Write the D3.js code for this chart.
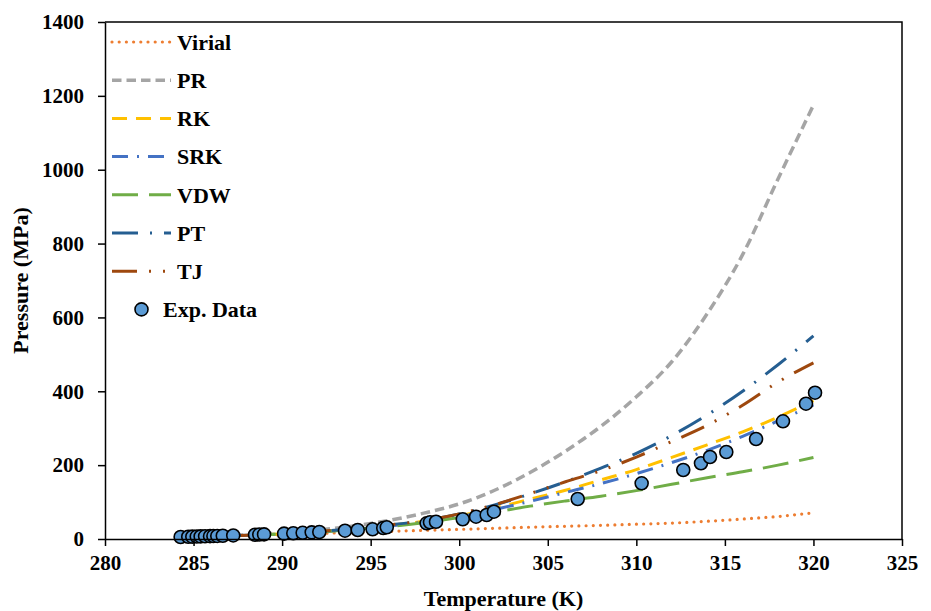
<!DOCTYPE html>
<html>
<head>
<meta charset="utf-8">
<script src="https://cdn.jsdelivr.net/npm/d3@7"></script>
<style>
  body { margin: 0; background: #fff; }
  text { font-family: "Liberation Serif", "Times New Roman", serif; font-weight: bold; fill: #000; }
</style>
</head>
<body>
<div id="chart"></div>
<script>
// model curves, all on one temperature grid (K) -> pressure (MPa)
var modelT = [284, 288, 292, 295, 298, 300, 302, 304, 306, 308, 310, 312, 314, 316, 318, 320];
var virialP = [5, 10, 15, 19, 23.5, 26, 29, 32, 34.5, 37, 40, 43, 48, 54, 61, 71];
var prP = [5, 11, 24, 42, 70, 95, 132, 180, 238, 305, 385, 480, 610, 770, 975, 1175];
var rkP = [5, 10, 19, 31, 48, 63, 84, 108, 132, 160, 188, 221, 255, 290, 330, 375];
var srkP = [5, 10, 19, 30, 46, 60, 80, 102, 126, 150, 177, 207, 240, 278, 320, 363];
var vdwP = [5, 10, 19, 29, 44, 58, 73, 89, 103, 116, 131, 148, 166, 182, 200, 221];
var ptP = [5, 10, 20, 33, 50, 68, 92, 122, 155, 192, 232, 280, 336, 400, 472, 550];
var tjP = [5, 10, 20, 33, 50, 68, 93, 123, 155, 185, 222, 264, 308, 362, 425, 477];

// experimental points
var expT = [284.27, 284.70, 284.93, 285.18, 285.40, 285.65, 285.93, 286.12, 286.34, 286.65, 287.24,
            288.47, 288.71, 288.98, 290.11, 290.63, 291.16, 291.67, 292.10,
            293.55, 294.27, 295.11, 295.71, 295.91, 298.16, 298.35, 298.69, 300.20, 300.95, 301.55, 301.96,
            306.69, 310.30, 312.65, 313.65, 314.16, 315.08, 316.76, 318.28, 319.58, 320.09];
var expP = [5.5, 6, 6.3, 6.6, 7, 7.3, 7.7, 8, 8.3, 8.8, 9.6,
            11.5, 12, 12.5, 14.5, 15.5, 16.8, 18, 19,
            22.5, 24.4, 26.3, 29.8, 31.7, 42.5, 45.2, 46.8, 53.3, 60.4, 65, 73.9,
            108.3, 150.8, 186.8, 205, 222, 235.6, 270.8, 318.7, 366.4, 396.2];

var xTicks = [280, 285, 290, 295, 300, 305, 310, 315, 320, 325];
var yTicks = [0, 200, 400, 600, 800, 1000, 1200, 1400];

var seriesNames = ["Virial", "PR", "RK", "SRK", "VDW", "PT", "TJ"];
var seriesValues = [virialP, prP, rkP, srkP, vdwP, ptP, tjP];
var seriesColors = ["#ED7D31", "#A5A5A5", "#FFC000", "#4472C4", "#70AD47", "#255E91", "#9E480E"];
var seriesDash = ["0,7.2", "9.5,5", "15,9", "16,9,2,9", "26,11", "26,12,2,12", "25,12,2,12,2,12"];
var seriesWidth = [3.2, 3.5, 3, 3, 3, 3, 3];

var svgWidth = 931;
var svgHeight = 611;
var margin = { top: 22, right: 29, bottom: 72, left: 105 };
var width = svgWidth - margin.left - margin.right;
var height = svgHeight - margin.top - margin.bottom;

var svg = d3.select("#chart")
    .append("svg")
    .attr("width", svgWidth)
    .attr("height", svgHeight);

var chart = svg.append("g")
    .attr("transform", "translate(" + margin.left + "," + margin.top + ")");

var xScale = d3.scaleLinear().domain([280, 325]).range([0, width]);
var yScale = d3.scaleLinear().domain([0, 1400]).range([height, 0]);

// frame (top + right)
chart.append("path")
    .attr("d", "M0,0H" + width + "V" + height)
    .attr("fill", "none")
    .attr("stroke", "#000")
    .attr("stroke-width", 1.5);

var line = d3.line()
    .x(function(d) { return xScale(d[0]); })
    .y(function(d) { return yScale(d[1]); })
    .curve(d3.curveMonotoneX);

seriesValues.forEach(function(vals, i) {
    var pts = modelT.map(function(t, j) { return [t, vals[j]]; });
    chart.append("path")
        .datum(pts)
        .attr("d", line)
        .attr("fill", "none")
        .attr("stroke", seriesColors[i])
        .attr("stroke-width", seriesWidth[i])
        .attr("stroke-dasharray", seriesDash[i])
        .attr("stroke-linecap", i === 0 ? "round" : "butt");
});

chart.selectAll("circle.exp")
    .data(expT)
    .enter().append("circle")
    .attr("class", "exp")
    .attr("cx", function(d) { return xScale(d); })
    .attr("cy", function(d, i) { return yScale(expP[i]); })
    .attr("r", 6.5)
    .attr("fill", "#5B9BD5")
    .attr("stroke", "#000")
    .attr("stroke-width", 1.6);

// axes
var bottomAxis = d3.axisBottom(xScale).tickValues(xTicks).tickFormat(d3.format("d"))
    .tickSizeInner(7).tickSizeOuter(0).tickPadding(9);
var leftAxis = d3.axisLeft(yScale).tickValues(yTicks).tickFormat(d3.format("d"))
    .tickSizeInner(7).tickSizeOuter(0).tickPadding(14);

var gx = chart.append("g")
    .attr("transform", "translate(0," + height + ")")
    .call(bottomAxis);
var gy = chart.append("g").call(leftAxis);

[gx, gy].forEach(function(g) {
    g.select(".domain").attr("stroke", "#000").attr("stroke-width", 1.5);
    g.selectAll(".tick line").attr("stroke", "#000").attr("stroke-width", 1.5);
    g.selectAll(".tick text")
        .style("font-family", '"Liberation Serif", "Times New Roman", serif')
        .style("font-weight", "bold")
        .style("font-size", "21px")
        .attr("fill", "#000");
});

chart.append("text")
    .attr("x", width / 2)
    .attr("y", height + 67)
    .attr("text-anchor", "middle")
    .style("font-size", "22px")
    .text("Temperature (K)");

chart.append("text")
    .attr("transform", "rotate(-90)")
    .attr("x", -height / 2)
    .attr("y", -77)
    .attr("text-anchor", "middle")
    .style("font-size", "22px")
    .text("Pressure (MPa)");

// legend
var legend = svg.append("g").attr("transform", "translate(112,42)");
var rowH = 38.2;

seriesNames.forEach(function(name, i) {
    var row = legend.append("g").attr("transform", "translate(0," + (i * rowH) + ")");
    row.append("line")
        .attr("x1", 0).attr("x2", 59)
        .attr("y1", 0).attr("y2", 0)
        .attr("stroke", seriesColors[i])
        .attr("stroke-width", seriesWidth[i])
        .attr("stroke-dasharray", seriesDash[i])
        .attr("stroke-linecap", i === 0 ? "round" : "butt");
    row.append("text")
        .attr("x", 65)
        .attr("y", 0)
        .attr("dy", "0.35em")
        .style("font-size", "22px")
        .text(name);
});

var expRow = legend.append("g").attr("transform", "translate(0," + (7 * rowH) + ")");
expRow.append("circle")
    .attr("cx", 29.5).attr("cy", 0).attr("r", 6.5)
    .attr("fill", "#5B9BD5").attr("stroke", "#000").attr("stroke-width", 1.6);
expRow.append("text")
    .attr("x", 51)
    .attr("y", 0)
    .attr("dy", "0.35em")
    .style("font-size", "22px")
    .text("Exp. Data");
</script>
</body>
</html>
